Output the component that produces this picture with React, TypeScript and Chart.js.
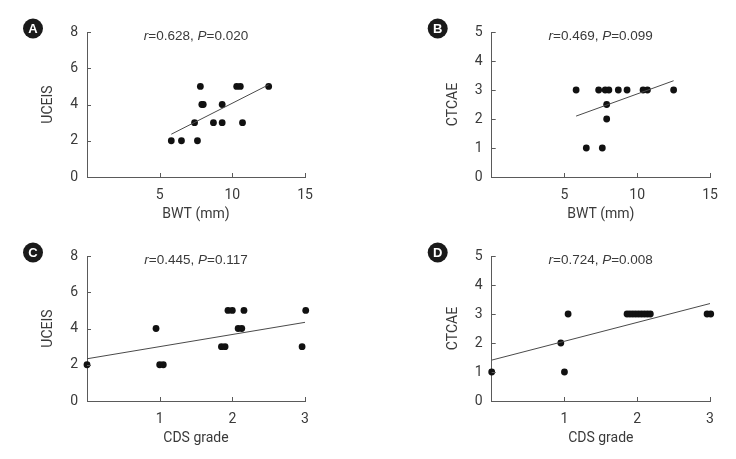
import React, { useEffect, useRef } from "react";
import { Chart, registerables } from "chart.js";
Chart.register(...registerables);

// ---- Panel A: BWT (mm) vs UCEIS ----
const bwtA = [5.8, 6.5, 7.6, 7.4, 7.8, 7.9, 8.0, 8.7, 9.3, 9.3, 10.3, 10.55, 10.7, 12.5];
const uceisA = [2, 2, 2, 3, 5, 4, 4, 3, 3, 4, 5, 5, 3, 5];
const trendAx = [5.8, 12.5];
const trendAy = [2.36, 5.09];

// ---- Panel B: BWT (mm) vs CTCAE ----
const bwtB = [5.8, 6.5, 7.35, 7.6, 7.8, 7.9, 7.9, 8.05, 8.7, 9.3, 10.4, 10.7, 12.5];
const ctcaeB = [3, 1, 3, 1, 3, 2.5, 2, 3, 3, 3, 3, 3, 3];
const trendBx = [5.8, 12.5];
const trendBy = [2.1, 3.32];

// ---- Panel C: CDS grade vs UCEIS ----
const cdsC = [0, 0.95, 1.0, 1.05, 1.85, 1.9, 1.94, 2.0, 2.08, 2.13, 2.16, 2.96, 3.01];
const uceisC = [2, 4, 2, 2, 3, 3, 5, 5, 4, 4, 5, 3, 5];
const trendCx = [0, 3];
const trendCy = [2.33, 4.34];

// ---- Panel D: CDS grade vs CTCAE ----
const cdsD = [0, 0.95, 1.0, 1.05, 1.86, 1.9, 1.94, 1.98, 2.02, 2.06, 2.1, 2.14, 2.18, 2.96, 3.01];
const ctcaeD = [1, 2, 1, 3, 3, 3, 3, 3, 3, 3, 3, 3, 3, 3, 3];
const trendDx = [0, 3];
const trendDy = [1.41, 3.36];

// ---- Labels ----
const letters = ["A", "B", "C", "D"];
const xTitles = ["BWT (mm)", "BWT (mm)", "CDS grade", "CDS grade"];
const yTitles = ["UCEIS", "CTCAE", "UCEIS", "CTCAE"];
const rValues = ["0.628", "0.469", "0.445", "0.724"];
const pValues = ["0.020", "0.099", "0.117", "0.008"];
const xMax = [15, 15, 3, 3];
const xStep = [5, 5, 1, 1];
const yMax = [8, 5, 8, 5];
const yStep = [2, 1, 2, 1];

const TEXT = "#3a3a3a";
const AXIS = "#5a5a5a";
const SANS = 'Roboto, "Liberation Sans", Arial, sans-serif';
const REG = '"Liberation Sans", Arial, sans-serif';

const decorPlugin = {
  id: "panelDecor",
  afterDraw(chart: any, _args: any, opts: any) {
    const { ctx, chartArea, scales } = chart;
    const xs = scales.x;
    const ys = scales.y;
    ctx.save();
    // inward tick marks
    ctx.strokeStyle = AXIS;
    ctx.lineWidth = 1;
    ctx.beginPath();
    xs.ticks.forEach((t: any) => {
      if (t.value === xs.min) return;
      const px = Math.round(xs.getPixelForValue(t.value)) + 0.5;
      ctx.moveTo(px, chartArea.bottom);
      ctx.lineTo(px, chartArea.bottom - 4);
    });
    ys.ticks.forEach((t: any) => {
      if (t.value === ys.min) return;
      const py = Math.round(ys.getPixelForValue(t.value)) + 0.5;
      ctx.moveTo(chartArea.left, py);
      ctx.lineTo(chartArea.left + 4, py);
    });
    ctx.stroke();

    // panel letter badge
    const cx = chartArea.left - 54;
    const cy = chartArea.top - 3.5;
    ctx.fillStyle = "#1a1a1a";
    ctx.beginPath();
    ctx.arc(cx, cy, 10, 0, Math.PI * 2);
    ctx.fill();
    ctx.fillStyle = "#ffffff";
    ctx.font = "bold 13px " + REG;
    ctx.textAlign = "center";
    ctx.textBaseline = "middle";
    ctx.fillText(opts.letter, cx, cy + 0.5);

    // annotation r=..., P=...
    const parts = [
      { t: "r", it: true },
      { t: "=" + opts.r + ", ", it: false },
      { t: "P", it: true },
      { t: "=" + opts.p, it: false },
    ];
    const fontN = "13.5px " + REG;
    const fontI = "italic 13.5px " + REG;
    let total = 0;
    const widths = parts.map((p) => {
      ctx.font = p.it ? fontI : fontN;
      const w = ctx.measureText(p.t).width;
      total += w;
      return w;
    });
    let x = chartArea.left + 109 - total / 2;
    const y = chartArea.top + 4;
    ctx.textAlign = "left";
    ctx.textBaseline = "middle";
    ctx.fillStyle = TEXT;
    parts.forEach((p, i) => {
      ctx.font = p.it ? fontI : fontN;
      ctx.fillText(p.t, x, y);
      x += widths[i];
    });
    ctx.restore();
  },
};

type PanelProps = {
  idx: number;
  xs: number[];
  ys: number[];
  tx: number[];
  ty: number[];
  left: number;
  top: number;
  padLeft: number;
  padRight: number;
};

function Panel({ idx, xs, ys, tx, ty, left, top, padLeft, padRight }: PanelProps) {
  const ref = useRef<HTMLCanvasElement>(null);
  useEffect(() => {
    if (!ref.current) return;
    const pts = xs.map((v, i) => ({ x: v, y: ys[i] }));
    const trend = tx.map((v, i) => ({ x: v, y: ty[i] }));
    const chart = new Chart(ref.current, {
      type: "scatter",
      data: {
        datasets: [
          {
            data: trend,
            showLine: true,
            borderColor: "#4a4a4a",
            borderWidth: 1,
            pointRadius: 0,
            fill: false,
          },
          {
            data: pts,
            backgroundColor: "#111111",
            borderWidth: 0,
            pointRadius: 3.4,
            clip: false,
          } as any,
        ],
      },
      options: {
        animation: false,
        responsive: false,
        events: [],
        layout: { padding: { left: padLeft, right: padRight, top: 32, bottom: 0 } },
        plugins: {
          legend: { display: false },
          tooltip: { enabled: false },
          panelDecor: { letter: letters[idx], r: rValues[idx], p: pValues[idx] },
        } as any,
        scales: {
          x: {
            type: "linear",
            min: 0,
            max: xMax[idx],
            grid: { display: false, drawTicks: false },
            border: { display: true, color: AXIS, width: 1 },
            ticks: {
              stepSize: xStep[idx],
              padding: 10,
              color: TEXT,
              font: { family: SANS, size: 14 },
              callback: (v: any) => (v === 0 ? "" : String(v)),
            },
            title: {
              display: true,
              text: xTitles[idx],
              color: TEXT,
              font: { family: SANS, size: 14 },
              padding: { top: 0, bottom: 2 },
            },
            afterFit: (s: any) => {
              s.height = 48;
            },
          },
          y: {
            type: "linear",
            min: 0,
            max: yMax[idx],
            grid: { display: false, drawTicks: false },
            border: { display: true, color: AXIS, width: 1 },
            ticks: {
              stepSize: yStep[idx],
              padding: 9,
              color: TEXT,
              font: { family: SANS, size: 14 },
            },
            title: {
              display: true,
              text: yTitles[idx],
              color: TEXT,
              font: { family: SANS, size: 14 },
              padding: { top: 40, bottom: 0 },
            },
            afterFit: (s: any) => {
              s.width = 87;
            },
          },
        },
      } as any,
      plugins: [decorPlugin as any],
    });
    return () => chart.destroy();
  }, []);
  return (
    <canvas
      ref={ref}
      width={368}
      height={225}
      style={{ position: "absolute", left, top, width: 368, height: 225, display: "block" }}
    />
  );
}

export default function App() {
  return (
    <div
      style={{
        position: "absolute",
        left: 0,
        top: 0,
        width: 736,
        height: 459,
        background: "#ffffff",
        overflow: "hidden",
      }}
    >
      <Panel idx={0} xs={bwtA} ys={uceisA} tx={trendAx} ty={trendAy} left={0} top={0} padLeft={0} padRight={63} />
      <Panel idx={1} xs={bwtB} ys={ctcaeB} tx={trendBx} ty={trendBy} left={368} top={0} padLeft={36.7} padRight={26} />
      <Panel idx={2} xs={cdsC} ys={uceisC} tx={trendCx} ty={trendCy} left={0} top={224} padLeft={0} padRight={63} />
      <Panel idx={3} xs={cdsD} ys={ctcaeD} tx={trendDx} ty={trendDy} left={368} top={224} padLeft={36.7} padRight={26} />
    </div>
  );
}
